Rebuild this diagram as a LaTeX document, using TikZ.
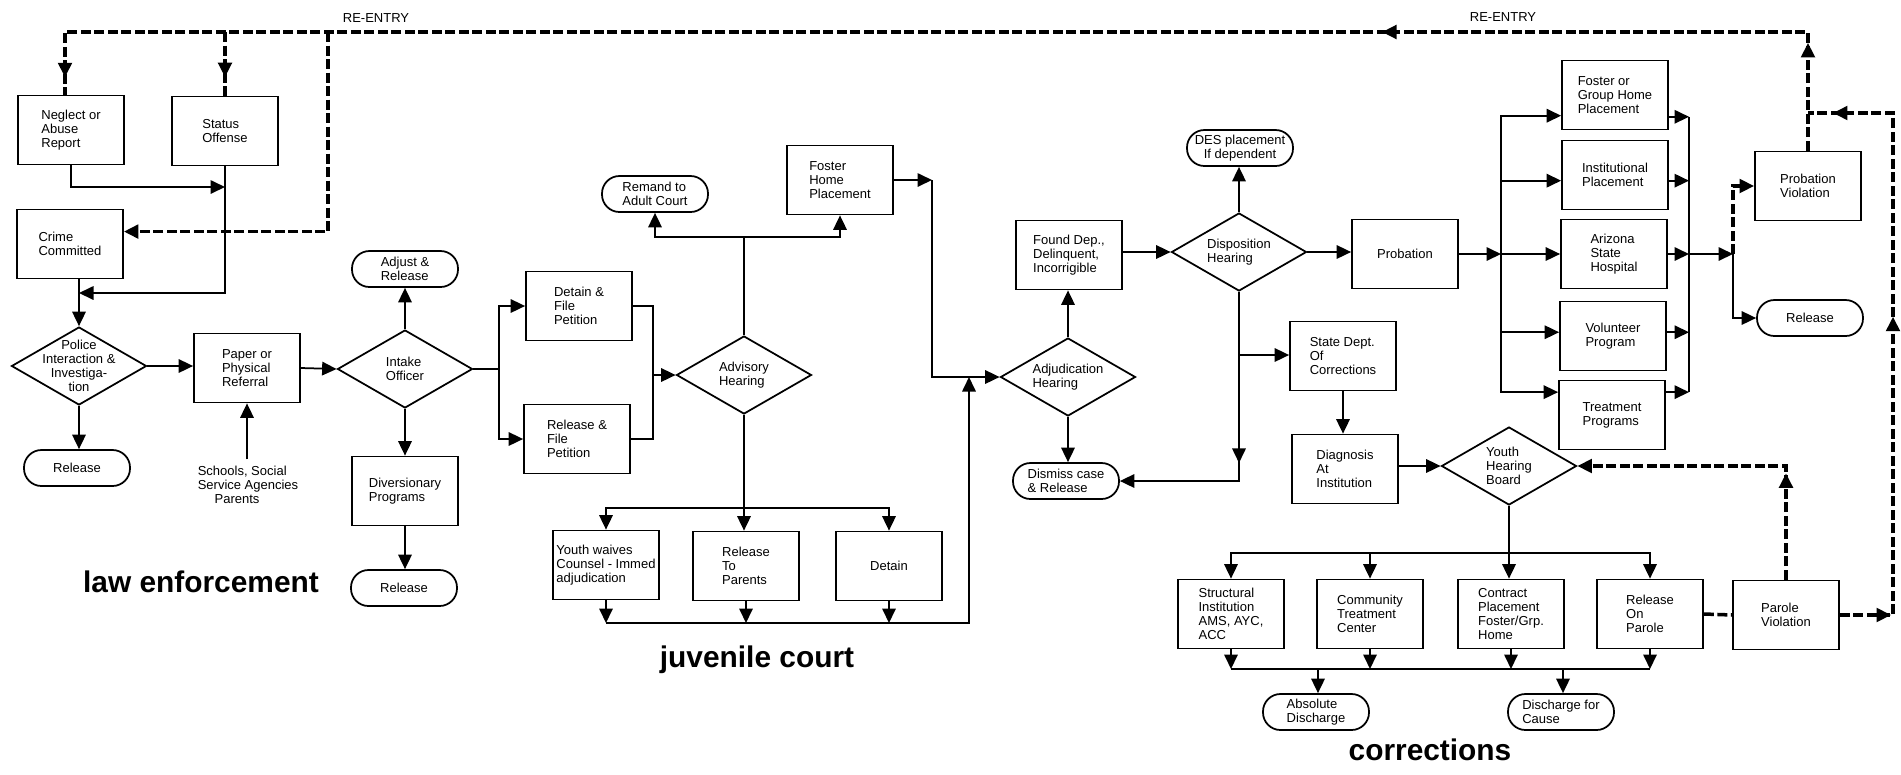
\documentclass[tikz,border=0pt]{standalone}
\usepackage{fontspec}
\setmainfont{Liberation Sans}
\usetikzlibrary{arrows.meta,shapes.geometric,decorations.markings}
\newcommand{\boxfont}{\fontsize{7.4}{8}\selectfont}
\newcommand{\titlefont}{\fontsize{17}{20}\selectfont\bfseries}
\tikzset{
  box/.style={draw, minimum width=21.2mm, minimum height=13.8mm, align=left, inner sep=1pt, font=\boxfont},
  term/.style={draw, rounded corners=3.5mm, minimum width=21.2mm, minimum height=7.2mm, align=left, inner sep=1pt, font=\boxfont},
  dia/.style={diamond, draw, minimum width=27mm, minimum height=15.6mm, inner sep=0pt},
  dtext/.style={align=left, font=\boxfont, inner sep=0pt},
  reentry/.style={line width=0.7mm, dash pattern=on 2mm off 0.7mm},
  marrow/.style={postaction={decorate, decoration={markings, mark=at position #1 with {\arrow{>}}}}},
  sect/.style={font=\titlefont}
}
\begin{document}
\begin{tikzpicture}[x=0.2mm, y=-0.2mm, line width=0.35mm,
  >={Triangle[length=2.9mm,width=2.7mm]}]
\useasboundingbox (0,0) rectangle (1901,774);

% law enforcement
\node[box] (neglect) at (71,130) {Neglect or\\Abuse\\Report};
\node[box] (status) at (225,131) {Status\\Offense};
\node[box] (crime) at (70,244) {Crime\\Committed};
\node[dia, label={[dtext, align=center]center:Police\\Interaction \&\\Investiga-\\tion}] (police) at (79,366) {};
\node[box] (paper) at (247,368) {Paper or\\Physical\\Referral};
\node[dia, label={[dtext]center:Intake\\Officer}] (intake) at (405,369) {};
\node[term] (adjust) at (405,269) {Adjust \&\\Release};
\node[term] (rel1) at (77,468) {Release};
\node[font=\boxfont, align=left] (schools) at (248,485) {Schools, Social\\Service Agencies\\\hspace{1.3em}Parents};
\node[box] (div) at (405,491) {Diversionary\\Programs};
\node[term] (rel2) at (404,588) {Release};
\node[sect] (lawtitle) at (201,582) {law enforcement};

% juvenile court
\node[box] (detain) at (579,306) {Detain \&\\File\\Petition};
\node[box] (relfile) at (577,439) {Release \&\\File\\Petition};
\node[dia, label={[dtext]center:Advisory\\Hearing}] (advisory) at (744,375) {};
\node[term] (remand) at (655,194) {Remand to\\Adult Court};
\node[box] (foster) at (840,180) {Foster\\Home\\Placement};
\node[box] (waive) at (606,565) {Youth waives\\Counsel - Immed\\adjudication};
\node[box] (parents) at (746,566) {Release\\To\\Parents};
\node[box] (detain2) at (889,566) {Detain};
\node[sect] (courttitle) at (757,660) {juvenile court};

% adjudication and disposition
\node[dia, label={[dtext]center:Adjudication\\Hearing}] (adjud) at (1068,377) {};
\node[box] (found) at (1069,255) {Found Dep.,\\Delinquent,\\Incorrigible};
\node[term] (dismiss) at (1066,481) {Dismiss case\\\& Release};
\node[dia, label={[dtext]center:Disposition\\Hearing}] (dispo) at (1239,252) {};
\node[term, align=center] (des) at (1240,148) {DES placement\\If dependent};
\node[box] (probation) at (1405,254) {Probation};
\node[box] (statedept) at (1343,356) {State Dept.\\Of\\Corrections};
\node[box] (diag) at (1345,469) {Diagnosis\\At\\Institution};
\node[dia, label={[dtext]center:Youth\\Hearing\\Board}] (youth) at (1509,466) {};

% probation
\node[box] (fostergrp) at (1615,95) {Foster or\\Group Home\\Placement};
\node[box] (instpl) at (1615,175) {Institutional\\Placement};
\node[box] (azh) at (1614,254) {Arizona\\State\\Hospital};
\node[box] (volunteer) at (1613,336) {Volunteer\\Program};
\node[box] (treat) at (1612,415) {Treatment\\Programs};
\node[box] (probviol) at (1808,186) {Probation\\Violation};
\node[term] (rel3) at (1810,318) {Release};

% corrections
\node[box] (struct) at (1231,614) {Structural\\Institution\\AMS, AYC,\\ACC};
\node[box] (commun) at (1370,614) {Community\\Treatment\\Center};
\node[box] (contract) at (1511,614) {Contract\\Placement\\Foster/Grp.\\Home};
\node[box] (parole) at (1650,614) {Release\\On\\Parole};
\node[box] (parviol) at (1786,615) {Parole\\Violation};
\node[term] (absdis) at (1316,712) {Absolute\\Discharge};
\node[term] (discause) at (1561,712) {Discharge for\\Cause};
\node[sect] (corrtitle) at (1430,750) {corrections};

\node[font=\boxfont] (re1) at (376,18) {RE-ENTRY};
\node[font=\boxfont] (re2) at (1503,17) {RE-ENTRY};

% law enforcement wiring
\coordinate (j1) at (225,187);
\coordinate (j2) at (79,293);
\draw[->] (neglect.south) |- (j1);
\draw[->] (status.south) |- (j2);
\draw[->] (police.north |- crime.south) -- (police.north);
\draw[->] (police.east) -- (police.east -| paper.west);
\draw[->] (police.south) -- (police.south |- rel1.north);
\draw[->] (paper.south |- schools.north) -- (paper.south);
\draw[->] (paper.east) -- (intake.west);
\draw[->] (intake.north) -- (adjust.south);
\draw[->] (intake.south) -- (div.north);
\draw[->] (div.south) -- (div.south |- rel2.north);

% juvenile court wiring
\coordinate (b1) at (499,369);
\coordinate (b2) at (653,375);
\coordinate (b3) at (744,237);
\coordinate (b4) at (744,508);
\coordinate (b5) at (969,623);
\coordinate (b6) at (932,180);
\coordinate (b7) at (969,377);
\draw (intake.east) -- (b1);
\draw[->] (b1) |- (detain.west);
\draw[->] (b1) |- (relfile.west);
\draw (detain.east) -| (b2);
\draw (relfile.east) -| (b2);
\draw[->] (b2) -- (advisory.west);
\draw (advisory.north) -- (b3);
\draw[->] (b3) -| (remand.south);
\draw[->] (b3) -| (foster.south);
\draw[->] (advisory.south) -- (advisory.south |- parents.north);
\draw[->] (b4) -| (waive.north);
\draw[->] (b4) -| (detain2.north);
\foreach \bx in {waive,parents,detain2}
  \draw[->] (\bx.south) -- (\bx.south |- b5);
\draw[->] (waive.south |- b5) -- (b5) -- (b7);
\draw[->] (foster.east) -- (b6);
\draw[->] (b6) |- (adjud.west);

% adjudication wiring
\coordinate (b9) at (1239,355);
\draw[->] (adjud.north) -- (adjud.north |- found.south);
\draw[->] (adjud.south) -- (adjud.south |- dismiss.north);
\draw[->] (found.east |- dispo.west) -- (dispo.west);
\draw[->] (dispo.north) -- (dispo.north |- des.south);
\draw[->] (dispo.east) -- (dispo.east -| probation.west);
\draw[->, marrow=0.555] (dispo.south) |- (dismiss.east);
\draw[->] (b9) -- (b9 -| statedept.west);
\draw[->] (statedept.south) -- (statedept.south |- diag.north);
\draw[->] (diag.east |- youth.west) -- (youth.west);

% probation wiring
\coordinate (b10) at (1501,254);
\coordinate (b11) at (1689,254);
\coordinate (pb) at (1733,254);
\draw[->] (probation.east) -- (b10);
\foreach \bx/\wa/\ea in {fostergrp/201/-22, instpl/186/-6, azh/180/0, volunteer/176/4, treat/157/23} {
  \draw[->] (b10) |- (\bx.\wa);
  \draw[->] (\bx.\ea) -- (\bx.\ea -| b11);
}
\draw (fostergrp.-22 -| b11) -- (treat.23 -| b11);
\draw[->] (b11) -- (pb);
\draw[->] (pb) |- (rel3.west);
\draw[reentry,->] (pb) |- (probviol.west);

% corrections wiring
\coordinate (b13) at (1509,553);
\coordinate (b14) at (1318,669);
\coordinate (b15) at (1563,669);
\draw[->] (youth.south) -- (youth.south |- contract.north);
\foreach \bx in {struct,commun,parole}
  \draw[->] (b13) -| (\bx.north);
\foreach \bx in {struct,commun,contract,parole}
  \draw[->] (\bx.south) -- (\bx.south |- b14);
\draw (struct.south |- b14) -- (parole.south |- b14);
\draw[->] (b14) -- (b14 |- absdis.north);
\draw[->] (b15) -- (b15 |- discause.north);

% re-entry
\coordinate (tl) at (65,32);
\coordinate (tr) at (1808,32);
\coordinate (ts) at (225,32);
\coordinate (tc) at (328,32);
\coordinate (rr) at (1893,615);
\coordinate (rt) at (1893,113);
\draw[reentry, marrow=0.056, marrow=0.283, marrow=0.991] (probviol.north) -- (tr) -- (tl) -- (tl |- neglect.north);
\draw[reentry, marrow=0.71] (ts) -- (status.north);
\draw[reentry,->] (tc) |- (crime.13);
\draw[reentry] (parole.east) -- (parviol.west);
\draw[reentry, marrow=0.33, ->] (parviol.north) |- (youth.east);
\draw[reentry, marrow=0.08, marrow=0.549, marrow=0.961] (parviol.east) -- (rr) -- (rt) -- (rt -| probviol.north);
\end{tikzpicture}
\end{document}
